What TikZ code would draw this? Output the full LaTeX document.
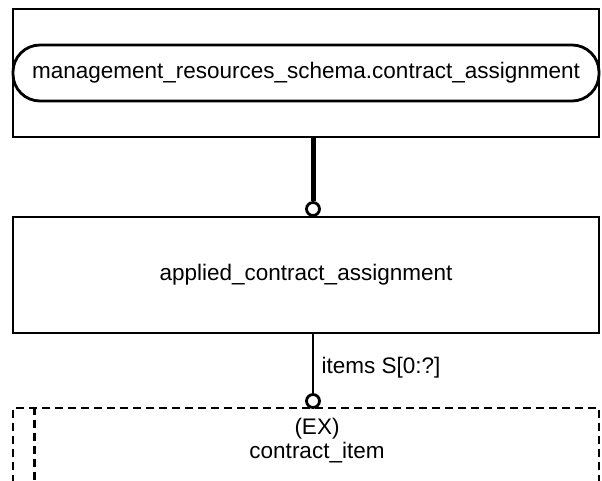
\documentclass[tikz,border=0pt]{standalone}
\usepackage{fontspec}
\setmainfont{Liberation Sans}
\usetikzlibrary{positioning}

\tikzset{
  entbox/.style={draw, line width=2.8pt, minimum width=586pt, inner sep=0pt},
  refbox/.style={draw, line width=2.8pt, rounded corners=27pt, minimum width=586pt, minimum height=56pt, inner sep=0pt},
  dashbox/.style={draw, line width=2.8pt, dash pattern=on 8pt off 5pt},
  knob/.style={circle, draw, fill=white, line width=2.8pt, inner sep=0pt, minimum size=13pt},
}

\begin{document}
\begin{tikzpicture}[x=1pt, y=-1pt, font=\fontsize{22.5}{24}\selectfont]
\clip (0,0) rectangle (602,480);

\node [entbox, minimum height=128pt] (schema) at (306,73) {};
\node [refbox] (ref) at (306,73) {management\_resources\_schema.contract\_assignment};

\node [entbox, minimum height=116pt] (applied) at (306,275) {applied\_contract\_assignment};

\node [entbox, dashbox, minimum height=100pt] (item) at (306,458) {};
\draw [dashbox] ([xshift=23pt]item.north west) -- ([xshift=23pt]item.south west);
\node [align=center] (itemname) at (317,441) {(EX)\\contract\_item};

\node [knob] (knobA) at (313,209) {};
\draw [line width=5pt] (schema.south -| knobA) -- (knobA);

\node [knob] (knobB) at (313,401) {};
\draw [line width=2.6pt] (applied.south -| knobB) -- (knobB);
\node [anchor=west] (items) at (318,368) {items S[0:?]};

\end{tikzpicture}
\end{document}
